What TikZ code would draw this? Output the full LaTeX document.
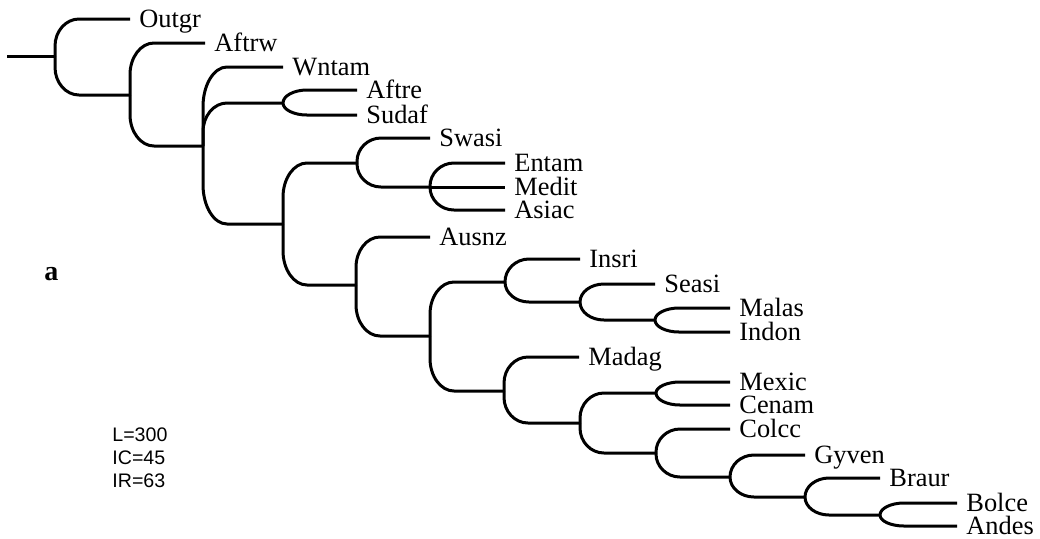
\documentclass[tikz,border=0pt]{standalone}
\usepackage{fontspec}
\setmainfont{Liberation Serif}
\newfontfamily\statfont{Liberation Sans}
\usepackage{tikz}
\usetikzlibrary{calc,positioning}

% one branch of the tree: vertical part, rounded bend, horizontal part
\newcommand{\branch}[2]{%
  \draw[branch] let \p1=(#1), \p2=(#2),
    \n1={min(abs(\y2-\y1),8pt+0.3*abs(\y2-\y1))}, \n2={sign(\y1-\y2)} in
    (\p1) -- (\x1,{\y2+\n2*\n1})
    .. controls (\x1,{\y2+\n2*\n1*0.448}) and ({\x1+5.4pt},\y2) .. ({\x1+12pt},\y2)
    -- (\p2);}

\begin{document}
\begin{tikzpicture}[x=0.5pt,y=-0.5pt,
  branch/.style={line width=1.5pt,line join=round},
  leaf/.style={anchor=west,inner xsep=4.5pt,inner ysep=0pt,text height=8.7pt,text depth=0pt,font=\fontsize{13.2}{15}\selectfont},
  stat/.style={anchor=base west,inner sep=0pt,font=\statfont\fontsize{9.8}{11}\selectfont}]
  \useasboundingbox (0,0) rectangle (1040,538);
  % inner nodes : name / x / y
  \coordinate (r0) at (7,56);
  \foreach \n/\x/\y in {n1/55/56, n2/130/95, n3/203/146, n4/283/103, n5/283/224,
      n6/357/163, n7/356/285, n8/430/187, n9/430/336, n10/505/282, n11/504/391,
      n12/580/302, n13/655/320, n14/580/423, n15/656/393, n16/656/453,
      n17/730/477, n18/805/497, n19/880/515}
    \coordinate (\n) at (\x,\y);
  % leaves : name / x / y / label
  \foreach \n/\x/\y/\t in {outgr/130/19/Outgr, aftrw/205/43/Aftrw, wntam/283/67/Wntam,
      aftre/357/90/Aftre, sudaf/357/115/Sudaf, swasi/430/138/Swasi,
      entam/505/163/Entam, medit/505/187/Medit, asiac/505/210/Asiac,
      ausnz/430/237/Ausnz, insri/580/259/Insri, seasi/655/284/Seasi,
      malas/730/308/Malas, indon/730/332/Indon, madag/579/357/Madag,
      mexic/730/382/Mexic, cenam/730/405/Cenam, colcc/730/429/Colcc,
      gyven/805/455/Gyven, braur/880/478/Braur, bolce/957/503/Bolce,
      andes/957/526/Andes}
    \node[leaf] (\n) at (\x,\y) {\t};
  % branches : parent / child
  \draw[branch] (r0) -- (n1);
  \foreach \a/\b in {n1/outgr.west, n1/n2, n2/aftrw.west, n2/n3,
      n3/wntam.west, n3/n4, n3/n5, n4/aftre.west, n4/sudaf.west,
      n5/n6, n5/n7, n6/swasi.west, n6/n8, n8/entam.west, n8/medit.west, n8/asiac.west,
      n7/ausnz.west, n7/n9, n9/n10, n9/n11, n10/insri.west, n10/n12,
      n12/seasi.west, n12/n13, n13/malas.west, n13/indon.west,
      n11/madag.west, n11/n14, n14/n15, n14/n16, n15/mexic.west, n15/cenam.west,
      n16/colcc.west, n16/n17, n17/gyven.west, n17/n18, n18/braur.west, n18/n19,
      n19/bolce.west, n19/andes.west}
    \branch{\a}{\b};
  % panel letter and tree statistics
  \node[anchor=base west,inner sep=0pt,font=\bfseries\fontsize{14}{16}\selectfont] (panel) at (44,280) {a};
  \foreach \t/\y [count=\i] in {L=300/441, IC=45/464, IR=63/487}
    \node[stat] (stat\i) at (112,\y) {\t};
\end{tikzpicture}
\end{document}
